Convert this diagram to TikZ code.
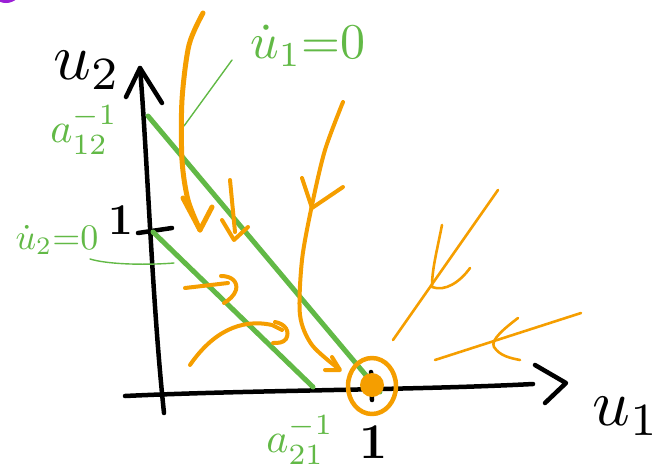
\documentclass[tikz,border=0pt]{standalone}
\usepackage{graphicx}
\begin{document}
\begin{tikzpicture}[x=1pt,y=-1pt,line cap=round,line join=round]
\definecolor{grn}{HTML}{62B946}
\definecolor{org}{HTML}{F59E00}
\definecolor{pur}{HTML}{9B1FD6}
\tikzset{
  axisline/.style={black,line width=4.5pt},
  nullc/.style={grn,line width=5pt},
  leader/.style={grn,line width=1.4pt},
  trajthick/.style={org,line width=5pt},
  traj/.style={org,line width=4pt},
  trajthin/.style={org,line width=2.6pt},
  glabel/.style={text=grn,inner sep=0pt},
  klabel/.style={text=black,inner sep=0pt}
}
\useasboundingbox (0,0) rectangle (665,475);
% purple blob in corner
\fill[pur] (6,-13) circle (16);
% axes
\draw[axisline] (140,68) .. controls (147,150) and (152,300) .. (164,413);
\draw[axisline] (126,97) -- (140,68) -- (162,103);
\draw[axisline] (125,396) .. controls (250,390) and (420,390) .. (533,384);
\draw[axisline] (535,365) -- (566,383) -- (545,403);
\draw[axisline] (138,233) -- (172,228);
\draw[axisline] (371,372) -- (372,400);
% labels
\node[klabel] (lu2) at (87,70) {\scalebox{6.6}{$u_2$}};
\node[klabel] (lu1) at (626,416) {\scalebox{6.6}{$u_1$}};
\node[klabel,font=\fontsize{44}{44}\selectfont\bfseries] (one2) at (121,220) {1};
\node[klabel,font=\fontsize{50}{50}\selectfont\bfseries] (one1) at (374,442) {1};
\node[glabel] (lu1dot) at (308,46) {\scalebox{5}{$\dot u_1{=}0$}};
\node[glabel] (lu2dot) at (57,240) {\scalebox{3.6}{$\dot u_2{=}0$}};
\node[glabel] (a12) at (84,130) {\scalebox{4.2}{$a_{12}^{-1}$}};
\node[glabel] (a21) at (300,440) {\scalebox{4.2}{$a_{21}^{-1}$}};
% nullclines
\coordinate (n1a) at (148,116);
\coordinate (n1b) at (380,392);
\coordinate (n2a) at (153,232);
\coordinate (n2b) at (313,387);
\draw[nullc] (n1a) -- (n1b);
\draw[nullc] (n2a) -- (n2b);
\coordinate (l1a) at (232,60);
\coordinate (l1b) at (184,126);
\draw[leader] (l1a) -- (l1b);
\coordinate (l2a) at (90,259);
\coordinate (l2b) at (174,263);
\draw[leader] (l2a) .. controls (110,265) and (150,265) .. (l2b);
% trajectories
\draw[trajthick] plot[smooth] coordinates {(203,13) (189,45) (182,100) (182,160) (188,200) (200,230)};
\draw[trajthick] (183,198) -- (200,230) -- (212,207);
\draw[traj] (230,180) -- (235,232);
\draw[traj] (222,220) -- (234,240) -- (248,227);
\draw[traj] plot[smooth] coordinates {(343,102) (325,150) (312,205) (302,260) (300,315) (312,345) (339,369)};
\draw[traj] (302,178) -- (312,208) -- (343,187);
\draw[traj] (332,357) -- (340,370) -- (325,370);
\draw[trajthin] (498,190) -- (393,340);
\draw[trajthin] (442,225) .. controls (436,255) and (432,270) .. (432,287) .. controls (445,292) and (460,282) .. (470,268);
\draw[trajthin] (581,313) -- (435,360);
\draw[trajthin] (518,318) .. controls (505,328) and (490,340) .. (494,347) .. controls (500,356) and (510,358) .. (520,360);
\draw[traj] (185,288) -- (228,283);
\draw[traj] (221,276) .. controls (232,276) and (238,282) .. (236,290) .. controls (234,296) and (229,300) .. (224,303);
\draw[traj] (190,365) .. controls (212,333) and (240,318) .. (272,325) -- (282,330);
\draw[traj] (275,322) .. controls (286,324) and (290,332) .. (286,339) .. controls (283,343) and (278,343) .. (273,343);
% fixed point
\fill[org] (372,385) circle (12);
\draw[org,line width=4.5pt] (372,386) ellipse [x radius=24,y radius=28];
\end{tikzpicture}
\end{document}
